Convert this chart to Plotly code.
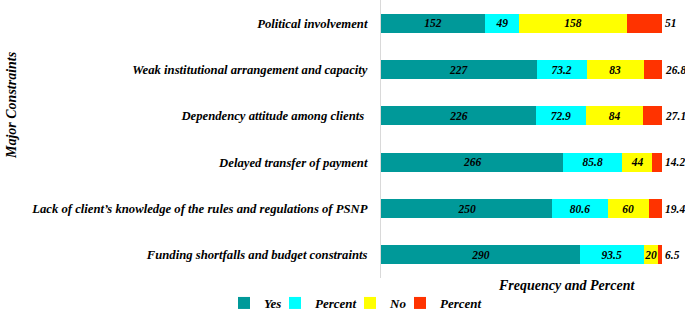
import plotly.graph_objects as go

categories = [
    "Political involvement",
    "Weak institutional arrangement and capacity",
    "Dependency attitude among clients ",
    "Delayed transfer of payment",
    "Lack of client\u2019s knowledge of the rules and regulations of PSNP",
    "Funding shortfalls and budget constraints",
]
yes_freq = [152, 227, 226, 266, 250, 290]
yes_pct = [49, 73.2, 72.9, 85.8, 80.6, 93.5]
no_freq = [158, 83, 84, 44, 60, 20]
no_pct = [51, 26.8, 27.1, 14.2, 19.4, 6.5]

series_names = ["Yes", "Percent", "No", "Percent"]
series_vals = [yes_freq, yes_pct, no_freq, no_pct]
colors = ["#009999", "#00FFFF", "#FFFF00", "#FF3300"]
legend_ids = ["legend", "legend2", "legend3", "legend4"]
legend_left_px = [224, 275, 350, 400]

FONT = "Liberation Serif"
ML, PW, PH = 381, 304, 278

fig = go.Figure()
for i, (name, vals, col) in enumerate(zip(series_names, series_vals, colors)):
    fig.add_trace(go.Bar(
        y=categories, x=vals, name=f"<b><i>{name}</i></b>", orientation="h",
        marker=dict(color=col, line=dict(width=0)),
        text=[f"<b><i>{v:g}</i></b>" for v in vals],
        textposition="outside" if i == 3 else "inside",
        insidetextanchor="middle",
        textangle=0,
        textfont=dict(family=FONT, size=11.5, color="black"),
        cliponaxis=False,
        width=0.41,
        hoverinfo="skip",
        legend=legend_ids[i],
    ))

legend_common = dict(orientation="h", yanchor="middle", xanchor="left",
                     font=dict(family=FONT, size=13, color="black"),
                     itemwidth=30, bgcolor="rgba(0,0,0,0)", borderwidth=0)
legends = {}
for lid, lx in zip(legend_ids, legend_left_px):
    legends[lid] = dict(x=(lx - ML) / PW, y=(PH - 303) / PH, **legend_common)

fig.update_layout(
    barmode="stack",
    width=685, height=309,
    margin=dict(l=ML, r=685 - ML - PW, t=0, b=309 - PH, autoexpand=False),
    paper_bgcolor="white", plot_bgcolor="white",
    uniformtext=dict(minsize=11.5, mode="show"),
    showlegend=True,
    font=dict(family=FONT, color="black"),
    **legends,
)
fig.update_yaxes(
    autorange="reversed", automargin=False,
    showline=True, linecolor="#d9d9d9", linewidth=1,
    showgrid=False, ticks="", ticklabelstandoff=10,
    tickfont=dict(family=FONT, size=12.7, color="black"),
    tickvals=categories,
    ticktext=[f"<b><i>{c}</i></b>" for c in categories],
)
fig.update_xaxes(range=[0, 410 * PW / 281], showgrid=False, showticklabels=False,
                 automargin=False, zeroline=False, showline=False, ticks="")

fig.add_annotation(text="<b><i>Frequency and Percent</i></b>", xref="paper", yref="paper",
                   x=(566 - ML) / PW, y=(PH - 285) / PH, xanchor="center", yanchor="middle",
                   showarrow=False, font=dict(family=FONT, size=14, color="black"))
fig.add_annotation(text="<b><i>Major Constraints</i></b>", xref="paper", yref="paper",
                   x=(11 - ML) / PW, y=1 - 105 / PH, xanchor="center", yanchor="middle",
                   textangle=-90, showarrow=False,
                   font=dict(family=FONT, size=14, color="black"))

fig.write_html("out.html", config={"displayModeBar": False},
               post_script="document.body.style.margin='0';")
